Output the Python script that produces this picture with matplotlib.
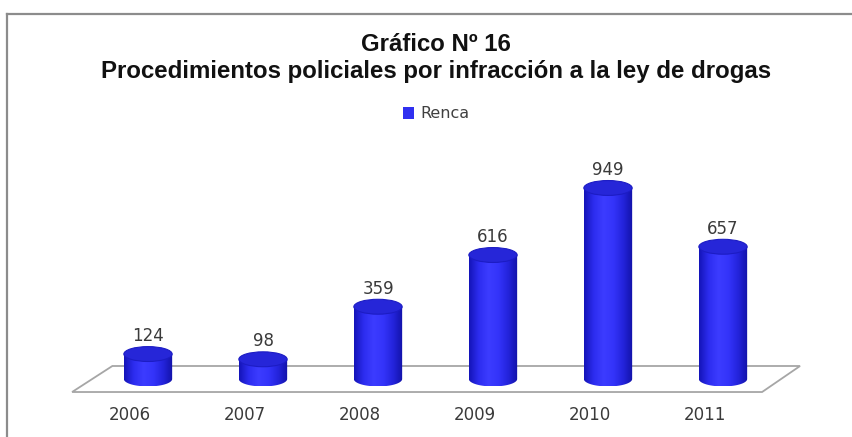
import numpy as np
import matplotlib
matplotlib.use("Agg")
import matplotlib.pyplot as plt
from matplotlib.patches import Polygon, Ellipse, PathPatch, Patch
from matplotlib.path import Path
from matplotlib.colors import LinearSegmentedColormap
from matplotlib.lines import Line2D

years = ["2006", "2007", "2008", "2009", "2010", "2011"]
renca = [124, 98, 359, 616, 949, 657]

title = "Gráfico Nº 16\nProcedimientos policiales por infracción a la ley de drogas"

fig = plt.figure(figsize=(8.53, 4.37), dpi=100)
fig.set_facecolor("white")
ax = fig.add_axes([0, 0, 1, 1])
ax.set_axis_off()

# data -> pixel mapping: 115 px per category, ~0.2 px per unit
xlim = (-148 / 115, (853 - 148) / 115)
ylim = (-288.1, 1882.8)

n = len(years)
xs = np.arange(n)

# floor of the 3d plot
floor = Polygon([(-0.66, -64.6), (n - 1 + 0.34, -64.6),
                 (n - 1 + 0.67, 64.6), (-0.31, 64.6)],
                closed=True, facecolor="white", edgecolor="#a6a6a6", lw=1.3, zorder=1)
ax.add_patch(floor)

# cylinders
w = 0.21   # half width in category units
h = 37     # half height of the ellipses in value units
body_cmap = LinearSegmentedColormap.from_list(
    "cyl", ["#1414b8", "#2d2df0", "#3c3cff", "#3434fa", "#2424dc", "#1212a8"])
grad = np.linspace(0, 1, 200).reshape(1, -1)

for x, v in zip(xs, renca):
    t = np.linspace(np.pi, 2 * np.pi, 60)
    pts = [(x - w, v), (x - w, 0)]
    pts += list(zip(x + w * np.cos(t), h * np.sin(t)))
    pts += [(x + w, 0), (x + w, v), (x - w, v)]
    body = PathPatch(Path(pts), facecolor="none", edgecolor="none", zorder=2)
    ax.add_patch(body)
    im = ax.imshow(grad, cmap=body_cmap, aspect="auto",
                   extent=[x - w, x + w, -h, v], zorder=2, interpolation="bilinear")
    im.set_clip_path(body)
    top = Ellipse((x, v), 2 * w, 2 * h, facecolor="#2626d8",
                  edgecolor="#1c1cc4", lw=0.8, zorder=3)
    ax.add_patch(top)
    ax.annotate(str(v), (x, v), xytext=(0, 13), textcoords="offset points",
                ha="center", va="center", fontsize=12, color="#3a3a3a",
                family="DejaVu Sans", zorder=4)

for x, lab in zip(xs, years):
    ax.text(x - 0.16, -178.8, lab, ha="center", va="center", fontsize=12,
            color="#3a3a3a", family="DejaVu Sans")

ax.set_xlim(*xlim)
ax.set_ylim(*ylim)

fig.text(0.511, 1 - 58 / 437, title, ha="center", va="center", fontsize=17.3,
         fontweight="bold", family="Liberation Sans", color="#111111",
         linespacing=1.24)

fig.legend(handles=[Patch(facecolor="#3030f0", edgecolor="none", label="Renca")],
           loc="center", bbox_to_anchor=(0.511, 1 - 114 / 437), frameon=False,
           handlelength=0.7, handleheight=0.7, handletextpad=0.4,
           prop={"family": "DejaVu Sans", "size": 11.5}, labelcolor="#404040")

# outer frame
fig.add_artist(Line2D([7 / 853, 1], [1 - 14 / 437, 1 - 14 / 437],
                      color="#8c8c8c", lw=1.6, transform=fig.transFigure))
fig.add_artist(Line2D([7 / 853, 7 / 853], [0, 1 - 14 / 437],
                      color="#8c8c8c", lw=1.6, transform=fig.transFigure))

fig.savefig("out.png", dpi=100)
